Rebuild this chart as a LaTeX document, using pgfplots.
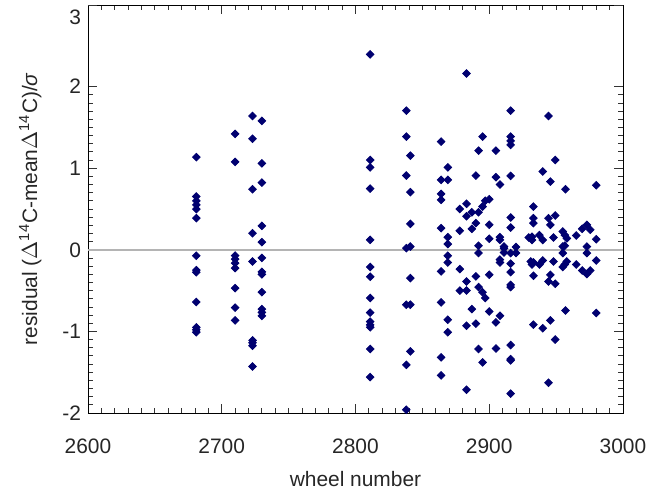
\documentclass[border=0pt]{standalone}
\usepackage{fontspec}
\setmainfont{Liberation Sans}
\usepackage{pgfplots}
\pgfplotsset{compat=1.18}
\usepackage{pgfplotstable}
\definecolor{navy}{HTML}{000070}
\definecolor{zeroline}{HTML}{B4B4B4}
\definecolor{labeltext}{HTML}{262626}

% wheel number, residual
\pgfplotstableread{
x y
2681 1.135
2681 0.653
2681 0.600
2681 0.551
2681 0.498
2681 0.388
2681 -0.073
2681 -0.250
2681 -0.275
2681 -0.640
2681 -0.950
2681 -0.980
2681 -1.010
2710 1.420
2710 1.077
2710 -0.070
2710 -0.114
2710 -0.163
2710 -0.224
2710 -0.470
2710 -0.710
2710 -0.865
2723 1.640
2723 1.360
2723 0.743
2723 0.204
2723 -0.143
2723 -1.110
2723 -1.140
2723 -1.175
2723 -1.430
2730 1.580
2730 1.060
2730 0.824
2730 0.294
2730 0.094
2730 -0.100
2730 -0.270
2730 -0.300
2730 -0.520
2730 -0.726
2730 -0.767
2730 -0.810
2811 2.395
2811 1.100
2811 1.010
2811 0.750
2811 0.122
2811 -0.210
2811 -0.330
2811 -0.590
2811 -0.770
2811 -0.880
2811 -0.920
2811 -0.950
2811 -1.215
2811 -1.560
2838 1.705
2838 1.387
2838 0.910
2838 0.020
2838 -0.673
2838 -1.410
2838 -1.960
2841 1.154
2841 0.706
2841 0.318
2841 0.040
2841 -0.347
2841 -0.673
2841 -1.245
2864 1.326
2864 0.857
2864 0.685
2864 0.612
2864 0.265
2864 -0.265
2864 -0.645
2864 -1.318
2864 -1.540
2869 1.010
2869 0.857
2869 0.155
2869 0.070
2869 -0.073
2869 -0.155
2869 -0.857
2869 -1.010
2878 0.500
2878 0.233
2878 -0.236
2878 -0.500
2883 2.160
2883 0.563
2883 0.410
2883 -0.388
2883 -0.498
2883 -0.930
2883 -1.714
2887 0.460
2887 0.257
2887 -0.726
2890 0.910
2890 0.327
2890 -0.326
2890 -0.906
2892 1.215
2892 0.460
2892 0.050
2892 -0.040
2892 -0.457
2892 -1.215
2895 1.387
2895 0.530
2895 -0.520
2895 -1.380
2897 0.600
2897 -0.590
2900 0.620
2900 0.306
2900 0.135
2900 -0.306
2900 -0.755
2905 1.215
2905 0.890
2905 -0.890
2905 -1.210
2908 0.800
2908 0.155
2908 0.122
2908 -0.120
2908 -0.155
2908 -0.808
2911 0.040
2911 0.020
2911 -0.033
2916 1.705
2916 1.387
2916 1.334
2916 1.285
2916 0.905
2916 0.396
2916 0.273
2916 -0.040
2916 -0.170
2916 -0.273
2916 -0.430
2916 -0.457
2916 -1.167
2916 -1.340
2916 -1.355
2916 -1.763
2920 0.035
2920 -0.040
2929.5 0.150
2931 -0.143
2932 0.160
2932 0.120
2932 -0.180
2933 0.530
2933 0.388
2933 0.327
2933 -0.155
2933 -0.318
2933 -0.918
2937.5 0.180
2937.5 -0.180
2940 0.960
2940 0.120
2940 -0.130
2940 -0.960
2944.3 1.640
2944.3 0.388
2944.3 -0.388
2944.3 -1.630
2945.7 0.836
2945.7 0.306
2945.7 -0.306
2945.7 -0.865
2948 0.150
2948 -0.143
2949.3 1.100
2949.3 0.420
2949.3 -0.416
2949.3 -1.100
2955 0.224
2955 0.040
2955 -0.040
2955 -0.210
2956.5 0.180
2956.5 0.050
2956.5 -0.180
2957 0.743
2957 -0.743
2958 0.140
2958 -0.143
2965 0.175
2965 -0.180
2969.5 0.257
2969.5 -0.253
2973 0.306
2973 0.040
2973 -0.040
2973 -0.297
2975.5 0.245
2975.5 -0.253
2980 0.790
2980 0.130
2980 -0.130
2980 -0.775
}\residuals

\begin{document}
\begin{tikzpicture}
  \begin{axis}[
    name=ax, at={(0,0)}, anchor=south west,
    scale only axis, width=267.5bp, height=204bp,
    xmin=2600, xmax=3000, ymin=-2, ymax=3,
    xtick={2600,2700,...,3000}, ytick={-2,-1,...,2},
    extra y ticks={3},
    extra y tick style={yticklabel style={yshift=-6bp}},
    minor x tick num=9, minor y tick num=9,
    major tick length=4.5bp, minor tick length=2.4bp,
    tick style={black!80, line width=0.4bp},
    axis line style={black, line width=0.5bp},
    font=\fontsize{10.5}{12}\selectfont,
    /pgf/number format/assume math mode=true,
    /pgf/number format/1000 sep={},
    ticklabel style={text=labeltext},
    xticklabel style={anchor=center, yshift=-16.5bp},
    xlabel={wheel number},
    ylabel={residual (\(\Delta\)\textsuperscript{14}C-mean\(\Delta\)\textsuperscript{14}C)/\textit{σ}},
    xlabel style={at={(axis description cs:0.5,-0.162)}, anchor=center, text=labeltext},
    ylabel style={at={(axis description cs:-0.108,0.5)}, anchor=center, rotate=0, text=labeltext},
  ]
    \addplot[zeroline, line width=0.8bp, forget plot] coordinates {(2600,0) (3000,0)};
    \addplot[only marks, mark=square*, mark size=1.35bp,
             mark options={rotate=45, draw=navy, fill=navy}]
      table[x=x, y=y] {\residuals};
  \end{axis}
  \pgfresetboundingbox
  \path[use as bounding box] (-44bp,-41.5bp) rectangle (280bp,206.5bp);
\end{tikzpicture}
\end{document}
